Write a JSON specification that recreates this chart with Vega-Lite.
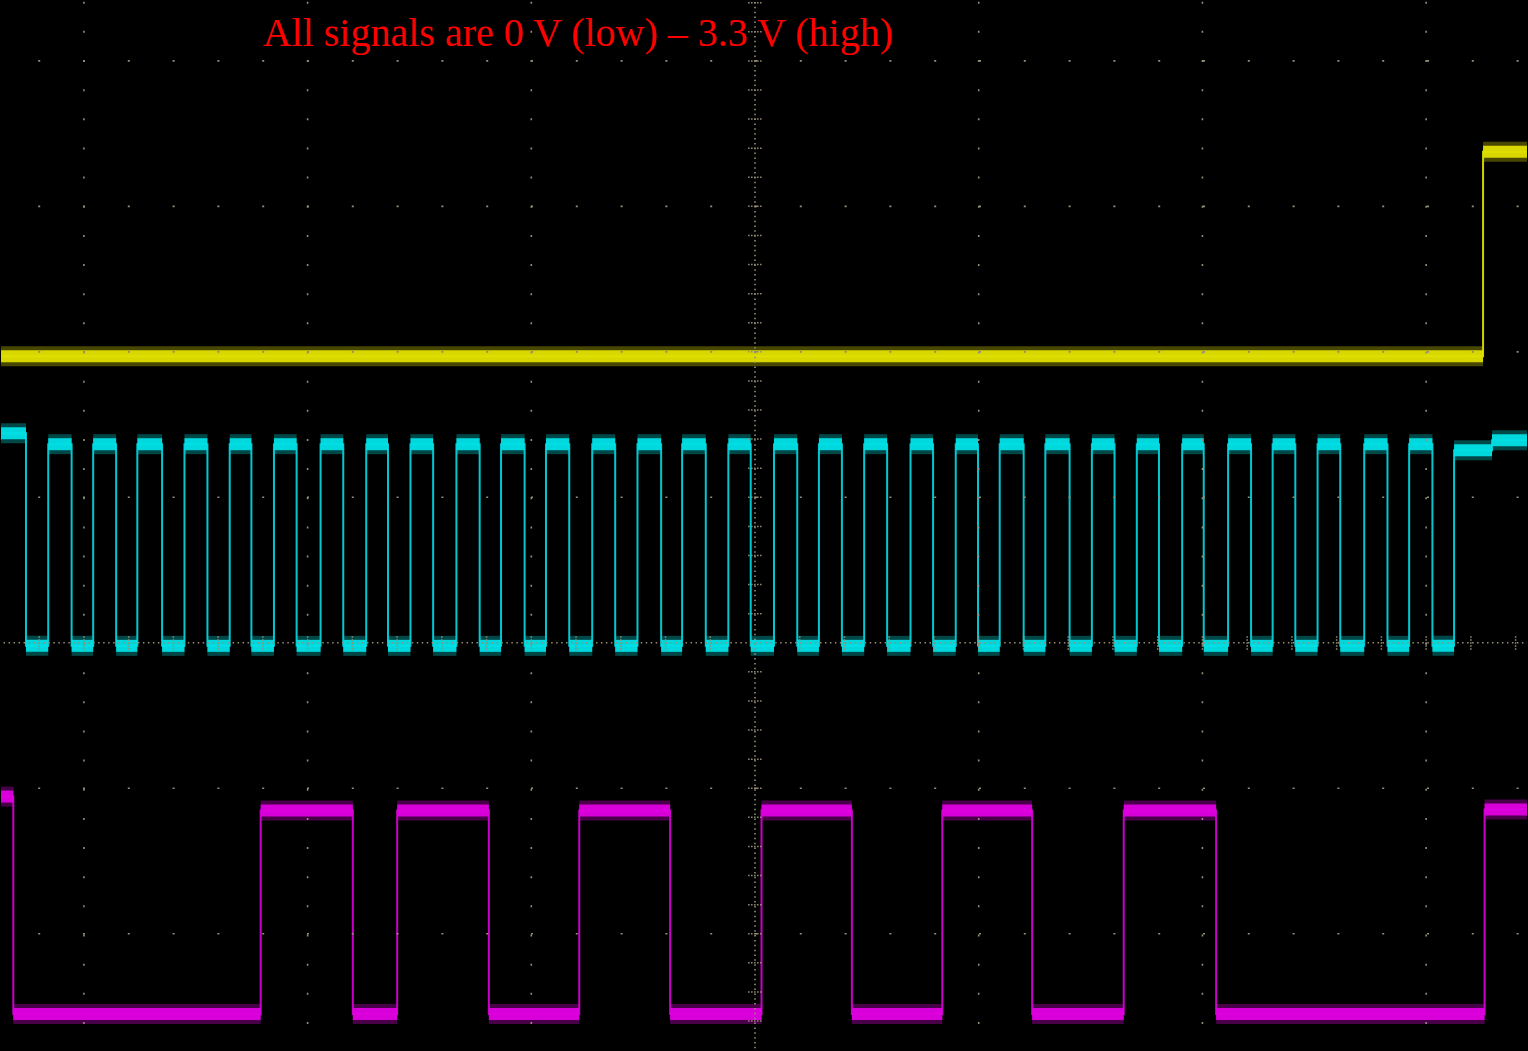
{
  "$schema": "https://vega.github.io/schema/vega-lite/v6.json",
  "width": 1528,
  "height": 1051,
  "autosize": {"type": "fit", "contains": "padding"},
  "padding": 0,
  "background": "#000000",
  "config": {"view": {"stroke": null}},
  "resolve": {"scale": {"color": "independent"}},
  "datasets": {
    "traces": [
      {"ch": "Y", "t": -3.3705, "t2": 3.2545, "v": 1.969},
      {"ch": "Y", "t": 3.2545, "t2": 3.4509, "v": 3.376},
      {"ch": "Y", "t": 3.4509, "t2": 3.4509, "v": 3.376},
      {"ch": "C", "t": -3.3705, "t2": -3.2589, "v": 1.441},
      {"ch": "C", "t": -3.2589, "t2": -3.1594, "v": -0.021},
      {"ch": "C", "t": -3.1594, "t2": -3.0549, "v": 1.365},
      {"ch": "C", "t": -3.0549, "t2": -2.9585, "v": -0.021},
      {"ch": "C", "t": -2.9585, "t2": -2.8558, "v": 1.365},
      {"ch": "C", "t": -2.8558, "t2": -2.7612, "v": -0.021},
      {"ch": "C", "t": -2.7612, "t2": -2.6504, "v": 1.365},
      {"ch": "C", "t": -2.6504, "t2": -2.5504, "v": -0.021},
      {"ch": "C", "t": -2.5504, "t2": -2.4478, "v": 1.365},
      {"ch": "C", "t": -2.4478, "t2": -2.3482, "v": -0.021},
      {"ch": "C", "t": -2.3482, "t2": -2.2513, "v": 1.365},
      {"ch": "C", "t": -2.2513, "t2": -2.1504, "v": -0.021},
      {"ch": "C", "t": -2.1504, "t2": -2.0491, "v": 1.365},
      {"ch": "C", "t": -2.0491, "t2": -1.942, "v": -0.021},
      {"ch": "C", "t": -1.942, "t2": -1.8406, "v": 1.365},
      {"ch": "C", "t": -1.8406, "t2": -1.7379, "v": -0.021},
      {"ch": "C", "t": -1.7379, "t2": -1.6406, "v": 1.365},
      {"ch": "C", "t": -1.6406, "t2": -1.5402, "v": -0.021},
      {"ch": "C", "t": -1.5402, "t2": -1.4388, "v": 1.365},
      {"ch": "C", "t": -1.4388, "t2": -1.3348, "v": -0.021},
      {"ch": "C", "t": -1.3348, "t2": -1.2308, "v": 1.365},
      {"ch": "C", "t": -1.2308, "t2": -1.1353, "v": -0.021},
      {"ch": "C", "t": -1.1353, "t2": -1.0299, "v": 1.365},
      {"ch": "C", "t": -1.0299, "t2": -0.9344, "v": -0.021},
      {"ch": "C", "t": -0.9344, "t2": -0.8304, "v": 1.365},
      {"ch": "C", "t": -0.8304, "t2": -0.7277, "v": -0.021},
      {"ch": "C", "t": -0.7277, "t2": -0.625, "v": 1.365},
      {"ch": "C", "t": -0.625, "t2": -0.5254, "v": -0.021},
      {"ch": "C", "t": -0.5254, "t2": -0.4196, "v": 1.365},
      {"ch": "C", "t": -0.4196, "t2": -0.3259, "v": -0.021},
      {"ch": "C", "t": -0.3259, "t2": -0.2201, "v": 1.365},
      {"ch": "C", "t": -0.2201, "t2": -0.1192, "v": -0.021},
      {"ch": "C", "t": -0.1192, "t2": -0.0192, "v": 1.365},
      {"ch": "C", "t": -0.0192, "t2": 0.0848, "v": -0.021},
      {"ch": "C", "t": 0.0848, "t2": 0.1888, "v": 1.365},
      {"ch": "C", "t": 0.1888, "t2": 0.2857, "v": -0.021},
      {"ch": "C", "t": 0.2857, "t2": 0.3884, "v": 1.365},
      {"ch": "C", "t": 0.3884, "t2": 0.4879, "v": -0.021},
      {"ch": "C", "t": 0.4879, "t2": 0.5906, "v": 1.365},
      {"ch": "C", "t": 0.5906, "t2": 0.6951, "v": -0.021},
      {"ch": "C", "t": 0.6951, "t2": 0.796, "v": 1.365},
      {"ch": "C", "t": 0.796, "t2": 0.8973, "v": -0.021},
      {"ch": "C", "t": 0.8973, "t2": 0.9969, "v": 1.365},
      {"ch": "C", "t": 0.9969, "t2": 1.0938, "v": -0.021},
      {"ch": "C", "t": 1.0938, "t2": 1.2009, "v": 1.365},
      {"ch": "C", "t": 1.2009, "t2": 1.2978, "v": -0.021},
      {"ch": "C", "t": 1.2978, "t2": 1.4063, "v": 1.365},
      {"ch": "C", "t": 1.4063, "t2": 1.5058, "v": -0.021},
      {"ch": "C", "t": 1.5058, "t2": 1.6071, "v": 1.365},
      {"ch": "C", "t": 1.6071, "t2": 1.7067, "v": -0.021},
      {"ch": "C", "t": 1.7067, "t2": 1.8058, "v": 1.365},
      {"ch": "C", "t": 1.8058, "t2": 1.9094, "v": -0.021},
      {"ch": "C", "t": 1.9094, "t2": 2.0058, "v": 1.365},
      {"ch": "C", "t": 2.0058, "t2": 2.1147, "v": -0.021},
      {"ch": "C", "t": 2.1147, "t2": 2.2174, "v": 1.365},
      {"ch": "C", "t": 2.2174, "t2": 2.3138, "v": -0.021},
      {"ch": "C", "t": 2.3138, "t2": 2.4152, "v": 1.365},
      {"ch": "C", "t": 2.4152, "t2": 2.5147, "v": -0.021},
      {"ch": "C", "t": 2.5147, "t2": 2.6161, "v": 1.365},
      {"ch": "C", "t": 2.6161, "t2": 2.7232, "v": -0.021},
      {"ch": "C", "t": 2.7232, "t2": 2.8272, "v": 1.365},
      {"ch": "C", "t": 2.8272, "t2": 2.9241, "v": -0.021},
      {"ch": "C", "t": 2.9241, "t2": 3.0281, "v": 1.365},
      {"ch": "C", "t": 3.0281, "t2": 3.125, "v": -0.021},
      {"ch": "C", "t": 3.125, "t2": 3.2946, "v": 1.324},
      {"ch": "C", "t": 3.2946, "t2": 3.4509, "v": 1.393},
      {"ch": "C", "t": 3.4509, "t2": 3.4509, "v": 1.393},
      {"ch": "M", "t": -3.3705, "t2": -3.3156, "v": -1.057},
      {"ch": "M", "t": -3.3156, "t2": -2.2098, "v": -2.552},
      {"ch": "M", "t": -2.2098, "t2": -1.7978, "v": -1.153},
      {"ch": "M", "t": -1.7978, "t2": -1.5996, "v": -2.552},
      {"ch": "M", "t": -1.5996, "t2": -1.1897, "v": -1.153},
      {"ch": "M", "t": -1.1897, "t2": -0.7857, "v": -2.552},
      {"ch": "M", "t": -0.7857, "t2": -0.3795, "v": -1.153},
      {"ch": "M", "t": -0.3795, "t2": 0.029, "v": -2.552},
      {"ch": "M", "t": 0.029, "t2": 0.433, "v": -1.153},
      {"ch": "M", "t": 0.433, "t2": 0.8371, "v": -2.552},
      {"ch": "M", "t": 0.8371, "t2": 1.2388, "v": -1.153},
      {"ch": "M", "t": 1.2388, "t2": 1.6482, "v": -2.552},
      {"ch": "M", "t": 1.6482, "t2": 2.0612, "v": -1.153},
      {"ch": "M", "t": 2.0612, "t2": 3.2612, "v": -2.552},
      {"ch": "M", "t": 3.2612, "t2": 3.4509, "v": -1.146},
      {"ch": "M", "t": 3.4509, "t2": 3.4509, "v": -1.146}
    ],
    "gridRows": [{"y": -2}, {"y": -1}, {"y": 1}, {"y": 2}, {"y": 3}, {"y": 4}],
    "gridCols": [{"x": -3}, {"x": -2}, {"x": -1}, {"x": 1}, {"x": 2}, {"x": 3}],
    "vTicks": [
      {"y": -2.6}, {"y": -2.4}, {"y": -2.2}, {"y": -2.0}, {"y": -1.8}, {"y": -1.6}, {"y": -1.4}, {"y": -1.2}, {"y": -1.0},
      {"y": -0.8}, {"y": -0.6}, {"y": -0.4}, {"y": -0.2}, {"y": 0.2}, {"y": 0.4}, {"y": 0.6}, {"y": 0.8}, {"y": 1.0},
      {"y": 1.2}, {"y": 1.4}, {"y": 1.6}, {"y": 1.8}, {"y": 2.0}, {"y": 2.2}, {"y": 2.4}, {"y": 2.6}, {"y": 2.8},
      {"y": 3.0}, {"y": 3.2}, {"y": 3.4}, {"y": 3.6}, {"y": 3.8}, {"y": 4.0}, {"y": 4.2}, {"y": 4.4}
    ],
    "hTicks": [
      {"x": -3.2}, {"x": -3.0}, {"x": -2.8}, {"x": -2.6}, {"x": -2.4}, {"x": -2.2}, {"x": -2.0}, {"x": -1.8}, {"x": -1.6},
      {"x": -1.4}, {"x": -1.2}, {"x": -1.0}, {"x": -0.8}, {"x": -0.6}, {"x": -0.4}, {"x": -0.2}, {"x": 0.2}, {"x": 0.4},
      {"x": 0.6}, {"x": 0.8}, {"x": 1.0}, {"x": 1.2}, {"x": 1.4}, {"x": 1.6}, {"x": 1.8}, {"x": 2.0}, {"x": 2.2},
      {"x": 2.4}, {"x": 2.6}, {"x": 2.8}, {"x": 3.0}, {"x": 3.2}, {"x": 3.4}
    ]
  },
  "layer": [
    {
      "data": {"name": "traces"},
      "mark": {"type": "rect", "yOffset": -10, "y2Offset": 10, "opacity": 0.3, "clip": true},
      "encoding": {
        "x": {"field": "t", "type": "quantitative", "scale": {"domain": [-3.37054, 3.45089], "nice": false, "zero": false}, "axis": null},
        "x2": {"field": "t2"},
        "y": {"field": "v", "type": "quantitative", "scale": {"domain": [-2.79931, 4.41166], "nice": false, "zero": false}, "axis": null},
        "y2": {"field": "v"},
        "color": {"field": "ch", "type": "nominal", "scale": {"domain": ["Y", "C", "M"], "range": ["#ecec00", "#00f0f0", "#f000f0"]}, "legend": null}
      }
    },
    {
      "data": {"name": "traces"},
      "mark": {"type": "line", "interpolate": "step-after", "strokeWidth": 2, "clip": true},
      "encoding": {
        "x": {"field": "t", "type": "quantitative", "axis": null},
        "y": {"field": "v", "type": "quantitative", "axis": null},
        "color": {"field": "ch", "type": "nominal", "scale": {"domain": ["Y", "C", "M"], "range": ["#d2d200", "#00c8d0", "#c800c8"]}, "legend": null}
      }
    },
    {
      "data": {"name": "traces"},
      "mark": {"type": "rect", "yOffset": -6, "y2Offset": 6, "opacity": 0.95, "clip": true},
      "encoding": {
        "x": {"field": "t", "type": "quantitative", "axis": null},
        "x2": {"field": "t2"},
        "y": {"field": "v", "type": "quantitative", "axis": null},
        "y2": {"field": "v"},
        "color": {"field": "ch", "type": "nominal", "scale": {"domain": ["Y", "C", "M"], "range": ["#e0e000", "#00e0e6", "#e000e0"]}, "legend": null}
      }
    },
    {
      "data": {"name": "gridRows"},
      "mark": {"type": "rule", "color": "#958d76", "strokeWidth": 1.6, "strokeDash": [2, 42.8], "strokeDashOffset": 7.6},
      "encoding": {
        "y": {"field": "y", "type": "quantitative"},
        "x": {"datum": -3.37054, "type": "quantitative"},
        "x2": {"datum": 3.45089}
      }
    },
    {
      "data": {"name": "gridCols"},
      "mark": {"type": "rule", "color": "#958d76", "strokeWidth": 1.6, "strokeDash": [2, 27.15], "strokeDashOffset": 28.45},
      "encoding": {
        "x": {"field": "x", "type": "quantitative"},
        "y": {"datum": 4.41166, "type": "quantitative"},
        "y2": {"datum": -2.79931}
      }
    },
    {
      "data": {"values": [{"axis": "h"}]},
      "mark": {"type": "rule", "color": "#958d76", "strokeWidth": 1.6, "strokeDash": [1.5, 3.478], "strokeDashOffset": 2.4},
      "encoding": {
        "y": {"datum": 0, "type": "quantitative"},
        "x": {"datum": -3.37054, "type": "quantitative"},
        "x2": {"datum": 3.45089}
      }
    },
    {
      "data": {"values": [{"axis": "v"}]},
      "mark": {"type": "rule", "color": "#958d76", "strokeWidth": 1.6, "strokeDash": [1.5, 3.36], "strokeDashOffset": 3.91},
      "encoding": {
        "x": {"datum": 0, "type": "quantitative"},
        "y": {"datum": 4.41166, "type": "quantitative"},
        "y2": {"datum": -2.79931}
      }
    },
    {
      "data": {"name": "vTicks"},
      "mark": {"type": "rule", "color": "#958d76", "strokeWidth": 1.5, "strokeDash": [1.5, 1.5]},
      "encoding": {
        "y": {"field": "y", "type": "quantitative"},
        "x": {"datum": -0.031, "type": "quantitative"},
        "x2": {"datum": 0.031}
      }
    },
    {
      "data": {"name": "hTicks"},
      "mark": {"type": "rule", "color": "#958d76", "strokeWidth": 1.5, "strokeDash": [1.5, 1.5]},
      "encoding": {
        "x": {"field": "x", "type": "quantitative"},
        "y": {"datum": -0.048, "type": "quantitative"},
        "y2": {"datum": 0.048}
      }
    },
    {
      "data": {"values": [{"label": "All signals are 0 V (low) – 3.3 V (high)"}]},
      "mark": {"type": "text", "align": "left", "baseline": "alphabetic", "font": "Liberation Serif", "fontSize": 40, "color": "#ff0000"},
      "encoding": {
        "text": {"field": "label", "type": "nominal"},
        "x": {"datum": -2.2009, "type": "quantitative"},
        "y": {"datum": 4.1029, "type": "quantitative"}
      }
    }
  ]
}
